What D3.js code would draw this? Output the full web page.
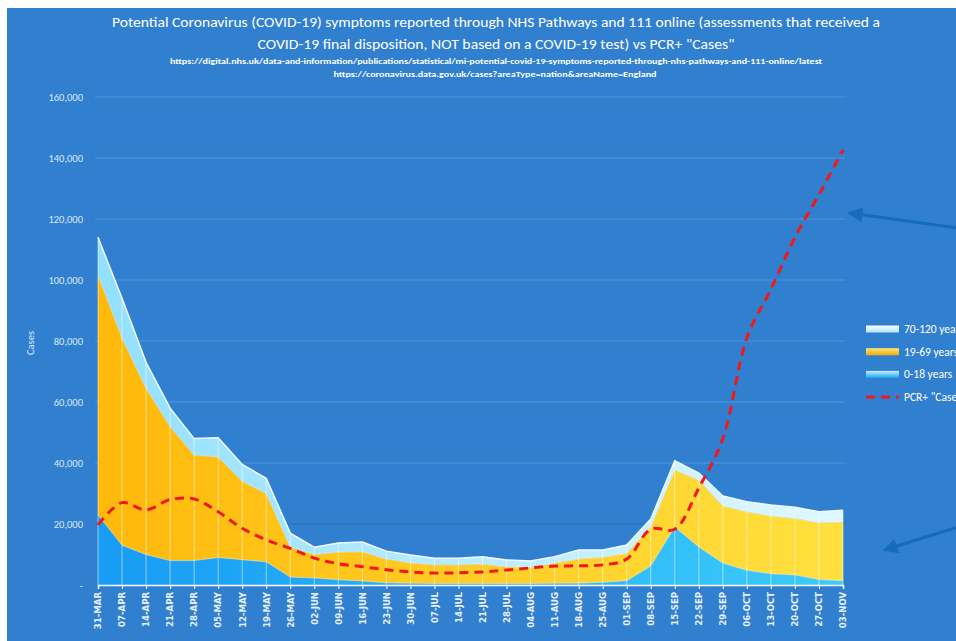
<!DOCTYPE html>
<html>
<head>
<meta charset="utf-8">
<script src="https://cdn.jsdelivr.net/npm/d3@7"></script>
<style>
  body { margin: 0; background: #ffffff; }
  svg { display: block; font-family: Carlito, "Liberation Sans Narrow", "DejaVu Sans Condensed", "Open Sans", sans-serif; }
</style>
</head>
<body>
<div class="chart"></div>
<script>
// week starting dates
const weeks = ["31-MAR","07-APR","14-APR","21-APR","28-APR","05-MAY","12-MAY","19-MAY","26-MAY",
    "02-JUN","09-JUN","16-JUN","23-JUN","30-JUN","07-JUL","14-JUL","21-JUL","28-JUL","04-AUG",
    "11-AUG","18-AUG","25-AUG","01-SEP","08-SEP","15-SEP","22-SEP","29-SEP","06-OCT","13-OCT",
    "20-OCT","27-OCT","03-NOV"];

// NHS pathways / 111 assessments by age band
const age0to18 = [23000,13000,10000,8000,8000,9000,8300,7600,2600,2300,1700,1300,700,600,500,500,
    500,500,500,600,600,900,1400,6200,19000,12500,7200,4800,3700,3300,1800,1400];
const age19to69 = [78600,68000,54500,44000,34600,33000,25700,22400,9900,7700,9100,9600,7800,6700,6100,6100,
    6400,5500,5300,6600,8000,8200,9000,12800,18700,21900,18700,19200,18900,18600,18600,19300];
const age70to120 = [12400,13000,8500,6000,5400,6300,5500,5000,4500,2400,3000,3200,2600,2500,2200,2200,
    2400,2200,2100,2100,2900,2400,2700,2600,3000,2300,3300,3300,3600,3600,3600,3800];

// PCR positive "cases"
const pcrCases = [19700,27000,24600,28000,28200,24000,18600,14800,12000,8800,7000,6000,5000,4300,3900,4000,
    4300,4900,5600,6200,6300,6600,8500,18300,18300,31800,48000,81000,97000,114000,128000,142600];

const yTicks = [0,20000,40000,60000,80000,100000,120000,140000,160000];
const seriesNames = ["0-18 years","19-69 years","70-120 years"];
const legendNames = ["70-120 years","19-69 years","0-18 years",'PCR+ "Cases"'];

const width = 956;
const height = 641;

const svg = d3.select(".chart")
    .append("svg")
    .attr("width", width)
    .attr("height", height);

// background panel
svg.append("rect")
    .attr("x", 7).attr("y", 8)
    .attr("width", width - 7).attr("height", height - 8)
    .attr("fill", "#3180cf");

// gradients
const defs = svg.append("defs");
function hGrad(id, c1, c2) {
    const g = defs.append("linearGradient").attr("id", id)
        .attr("gradientUnits", "userSpaceOnUse")
        .attr("x1", 98).attr("x2", 843).attr("y1", 0).attr("y2", 0);
    g.append("stop").attr("offset", "0%").attr("stop-color", c1);
    g.append("stop").attr("offset", "100%").attr("stop-color", c2);
}
function vGrad(id, c1, c2) {
    const g = defs.append("linearGradient").attr("id", id)
        .attr("x1", 0).attr("x2", 0).attr("y1", 0).attr("y2", 1);
    g.append("stop").attr("offset", "0%").attr("stop-color", c1);
    g.append("stop").attr("offset", "100%").attr("stop-color", c2);
}
hGrad("g-young", "#189cf4", "#3ccbfa");
hGrad("g-mid", "#ffb90a", "#ffe03e");
hGrad("g-old", "#92e0ff", "#e0f8ff");
vGrad("l-old", "#ffffff", "#a8e6ff");
vGrad("l-mid", "#ffe680", "#f2ad00");
vGrad("l-young", "#c8f2ff", "#18a4f4");

const x = d3.scalePoint().domain(weeks).range([98, 843]);
const y = d3.scaleLinear().domain([0, 160000]).range([585, 97]);

// title
const title = svg.append("g").attr("fill", "#ffffff").attr("text-anchor", "middle");
title.append("text").attr("x", 496).attr("y", 27).attr("font-size", 14.5)
    .attr("textLength", 768).attr("lengthAdjust", "spacingAndGlyphs")
    .text("Potential Coronavirus (COVID-19) symptoms reported through NHS Pathways and 111 online (assessments that received a");
title.append("text").attr("x", 496).attr("y", 49).attr("font-size", 14.5)
    .attr("textLength", 477).attr("lengthAdjust", "spacingAndGlyphs")
    .text('COVID-19 final disposition, NOT based on a COVID-19 test) vs PCR+ "Cases"');
title.append("text").attr("x", 496).attr("y", 64).attr("font-size", 8).attr("font-weight", "bold")
    .attr("textLength", 652).attr("lengthAdjust", "spacingAndGlyphs")
    .text("https://digital.nhs.uk/data-and-information/publications/statistical/mi-potential-covid-19-symptoms-reported-through-nhs-pathways-and-111-online/latest");
title.append("text").attr("x", 495).attr("y", 77).attr("font-size", 8).attr("font-weight", "bold")
    .attr("textLength", 323).attr("lengthAdjust", "spacingAndGlyphs")
    .text("https://coronavirus.data.gov.uk/cases?areaType=nation&areaName=England");

// gridlines
svg.selectAll(".grid")
    .data(yTicks.filter(d => d > 0))
    .enter()
    .append("line")
    .attr("class", "grid")
    .attr("x1", 95).attr("x2", 845)
    .attr("y1", d => y(d)).attr("y2", d => y(d))
    .attr("stroke", d => d === 20000 ? "#2a6cb4" : "#4c97df")
    .attr("stroke-width", 1.2);

// y axis labels
svg.selectAll(".ylab")
    .data(yTicks)
    .enter()
    .append("text")
    .attr("class", "ylab")
    .attr("x", 83)
    .attr("y", d => y(d))
    .attr("dy", "0.35em")
    .attr("text-anchor", "end")
    .attr("font-size", 10.5)
    .attr("fill", "#dbe8f6")
    .text(d => d === 0 ? "-" : d3.format(",")(d));

svg.append("text")
    .attr("transform", "translate(34,343) rotate(-90)")
    .attr("text-anchor", "middle")
    .attr("font-size", 10.5)
    .attr("fill", "#dbe8f6")
    .text("Cases");

// stacked areas
const rows = weeks.map((w, i) => ({
    week: w, "0-18 years": age0to18[i], "19-69 years": age19to69[i], "70-120 years": age70to120[i]
}));
const stacked = d3.stack().keys(seriesNames)(rows);
const fills = ["url(#g-young)", "url(#g-mid)", "url(#g-old)"];

const area = d3.area()
    .x(d => x(d.data.week))
    .y0(d => y(d[0]))
    .y1(d => y(d[1]));

svg.selectAll(".band")
    .data(stacked)
    .enter()
    .append("path")
    .attr("class", "band")
    .attr("d", area)
    .attr("fill", (d, i) => fills[i]);

// thin light edges on top of each band
const edge = d3.line().x(d => x(d.data.week)).y(d => y(d[1]));
svg.selectAll(".edge")
    .data(stacked)
    .enter()
    .append("path")
    .attr("class", "edge")
    .attr("d", edge)
    .attr("fill", "none")
    .attr("stroke", (d, i) => i === 2 ? "#f2fcff" : "rgba(255,255,255,0.45)")
    .attr("stroke-width", (d, i) => i === 2 ? 1.5 : 1);

// drop lines
const totals = stacked[2];
svg.selectAll(".drop")
    .data(totals)
    .enter()
    .append("line")
    .attr("class", "drop")
    .attr("x1", d => x(d.data.week)).attr("x2", d => x(d.data.week))
    .attr("y1", y(0)).attr("y2", d => y(d[1]))
    .attr("stroke", "rgba(255,255,255,0.5)")
    .attr("stroke-width", 1);

// x axis
const xAxis = svg.append("g")
    .attr("transform", "translate(0," + y(0) + ")")
    .call(d3.axisBottom(x).tickSize(4).tickFormat(""));
xAxis.select(".domain").attr("stroke", "#ffffff").attr("stroke-width", 1.5);
xAxis.selectAll(".tick line").attr("stroke", "#ffffff");

svg.selectAll(".xlab")
    .data(weeks)
    .enter()
    .append("text")
    .attr("class", "xlab")
    .attr("transform", d => "translate(" + x(d) + ",592) rotate(-90)")
    .attr("dy", "0.35em")
    .attr("text-anchor", "end")
    .attr("font-family", "'DejaVu Sans Condensed', 'DejaVu Sans', sans-serif")
    .attr("font-size", 9.5)
    .attr("font-weight", "bold")
    .attr("fill", "#e8f1fb")
    .text(d => d);

// PCR line
const pcrLine = d3.line()
    .x((d, i) => x(weeks[i]))
    .y(d => y(d))
    .curve(d3.curveCatmullRom.alpha(0.5));

svg.append("path")
    .datum(pcrCases)
    .attr("d", pcrLine)
    .attr("fill", "none")
    .attr("stroke", "#f01818")
    .attr("stroke-width", 3)
    .attr("stroke-dasharray", "9,6");

// legend
const legend = svg.append("g");
const legendFills = ["url(#l-old)", "url(#l-mid)", "url(#l-young)"];
legendNames.forEach((name, i) => {
    const ly = 329 + i * 22.7;
    if (i < 3) {
        legend.append("rect")
            .attr("x", 866).attr("y", ly - 3.5)
            .attr("width", 33).attr("height", 7)
            .attr("fill", legendFills[i]);
    } else {
        legend.append("line")
            .attr("x1", 866).attr("x2", 899)
            .attr("y1", ly).attr("y2", ly)
            .attr("stroke", "#f01818")
            .attr("stroke-width", 3)
            .attr("stroke-dasharray", "9,6");
    }
    legend.append("text")
        .attr("x", 904).attr("y", ly)
        .attr("dy", "0.35em")
        .attr("font-size", 11.5)
        .attr("fill", "#ffffff")
        .text(name);
});

// annotation arrows
defs.append("marker")
    .attr("id", "head")
    .attr("viewBox", "0 0 10 10")
    .attr("refX", 9).attr("refY", 5)
    .attr("markerWidth", 5).attr("markerHeight", 5)
    .attr("orient", "auto")
    .append("path")
    .attr("d", "M0,0 L10,5 L0,10 Z")
    .attr("fill", "#156bbd");

const arrows = [
    { x1: 958, y1: 228, x2: 849, y2: 213 },
    { x1: 958, y1: 527, x2: 884, y2: 550 }
];
svg.selectAll(".arrow")
    .data(arrows)
    .enter()
    .append("line")
    .attr("class", "arrow")
    .attr("x1", d => d.x1).attr("y1", d => d.y1)
    .attr("x2", d => d.x2).attr("y2", d => d.y2)
    .attr("stroke", "#156bbd")
    .attr("stroke-width", 3)
    .attr("marker-end", "url(#head)");
</script>
</body>
</html>
